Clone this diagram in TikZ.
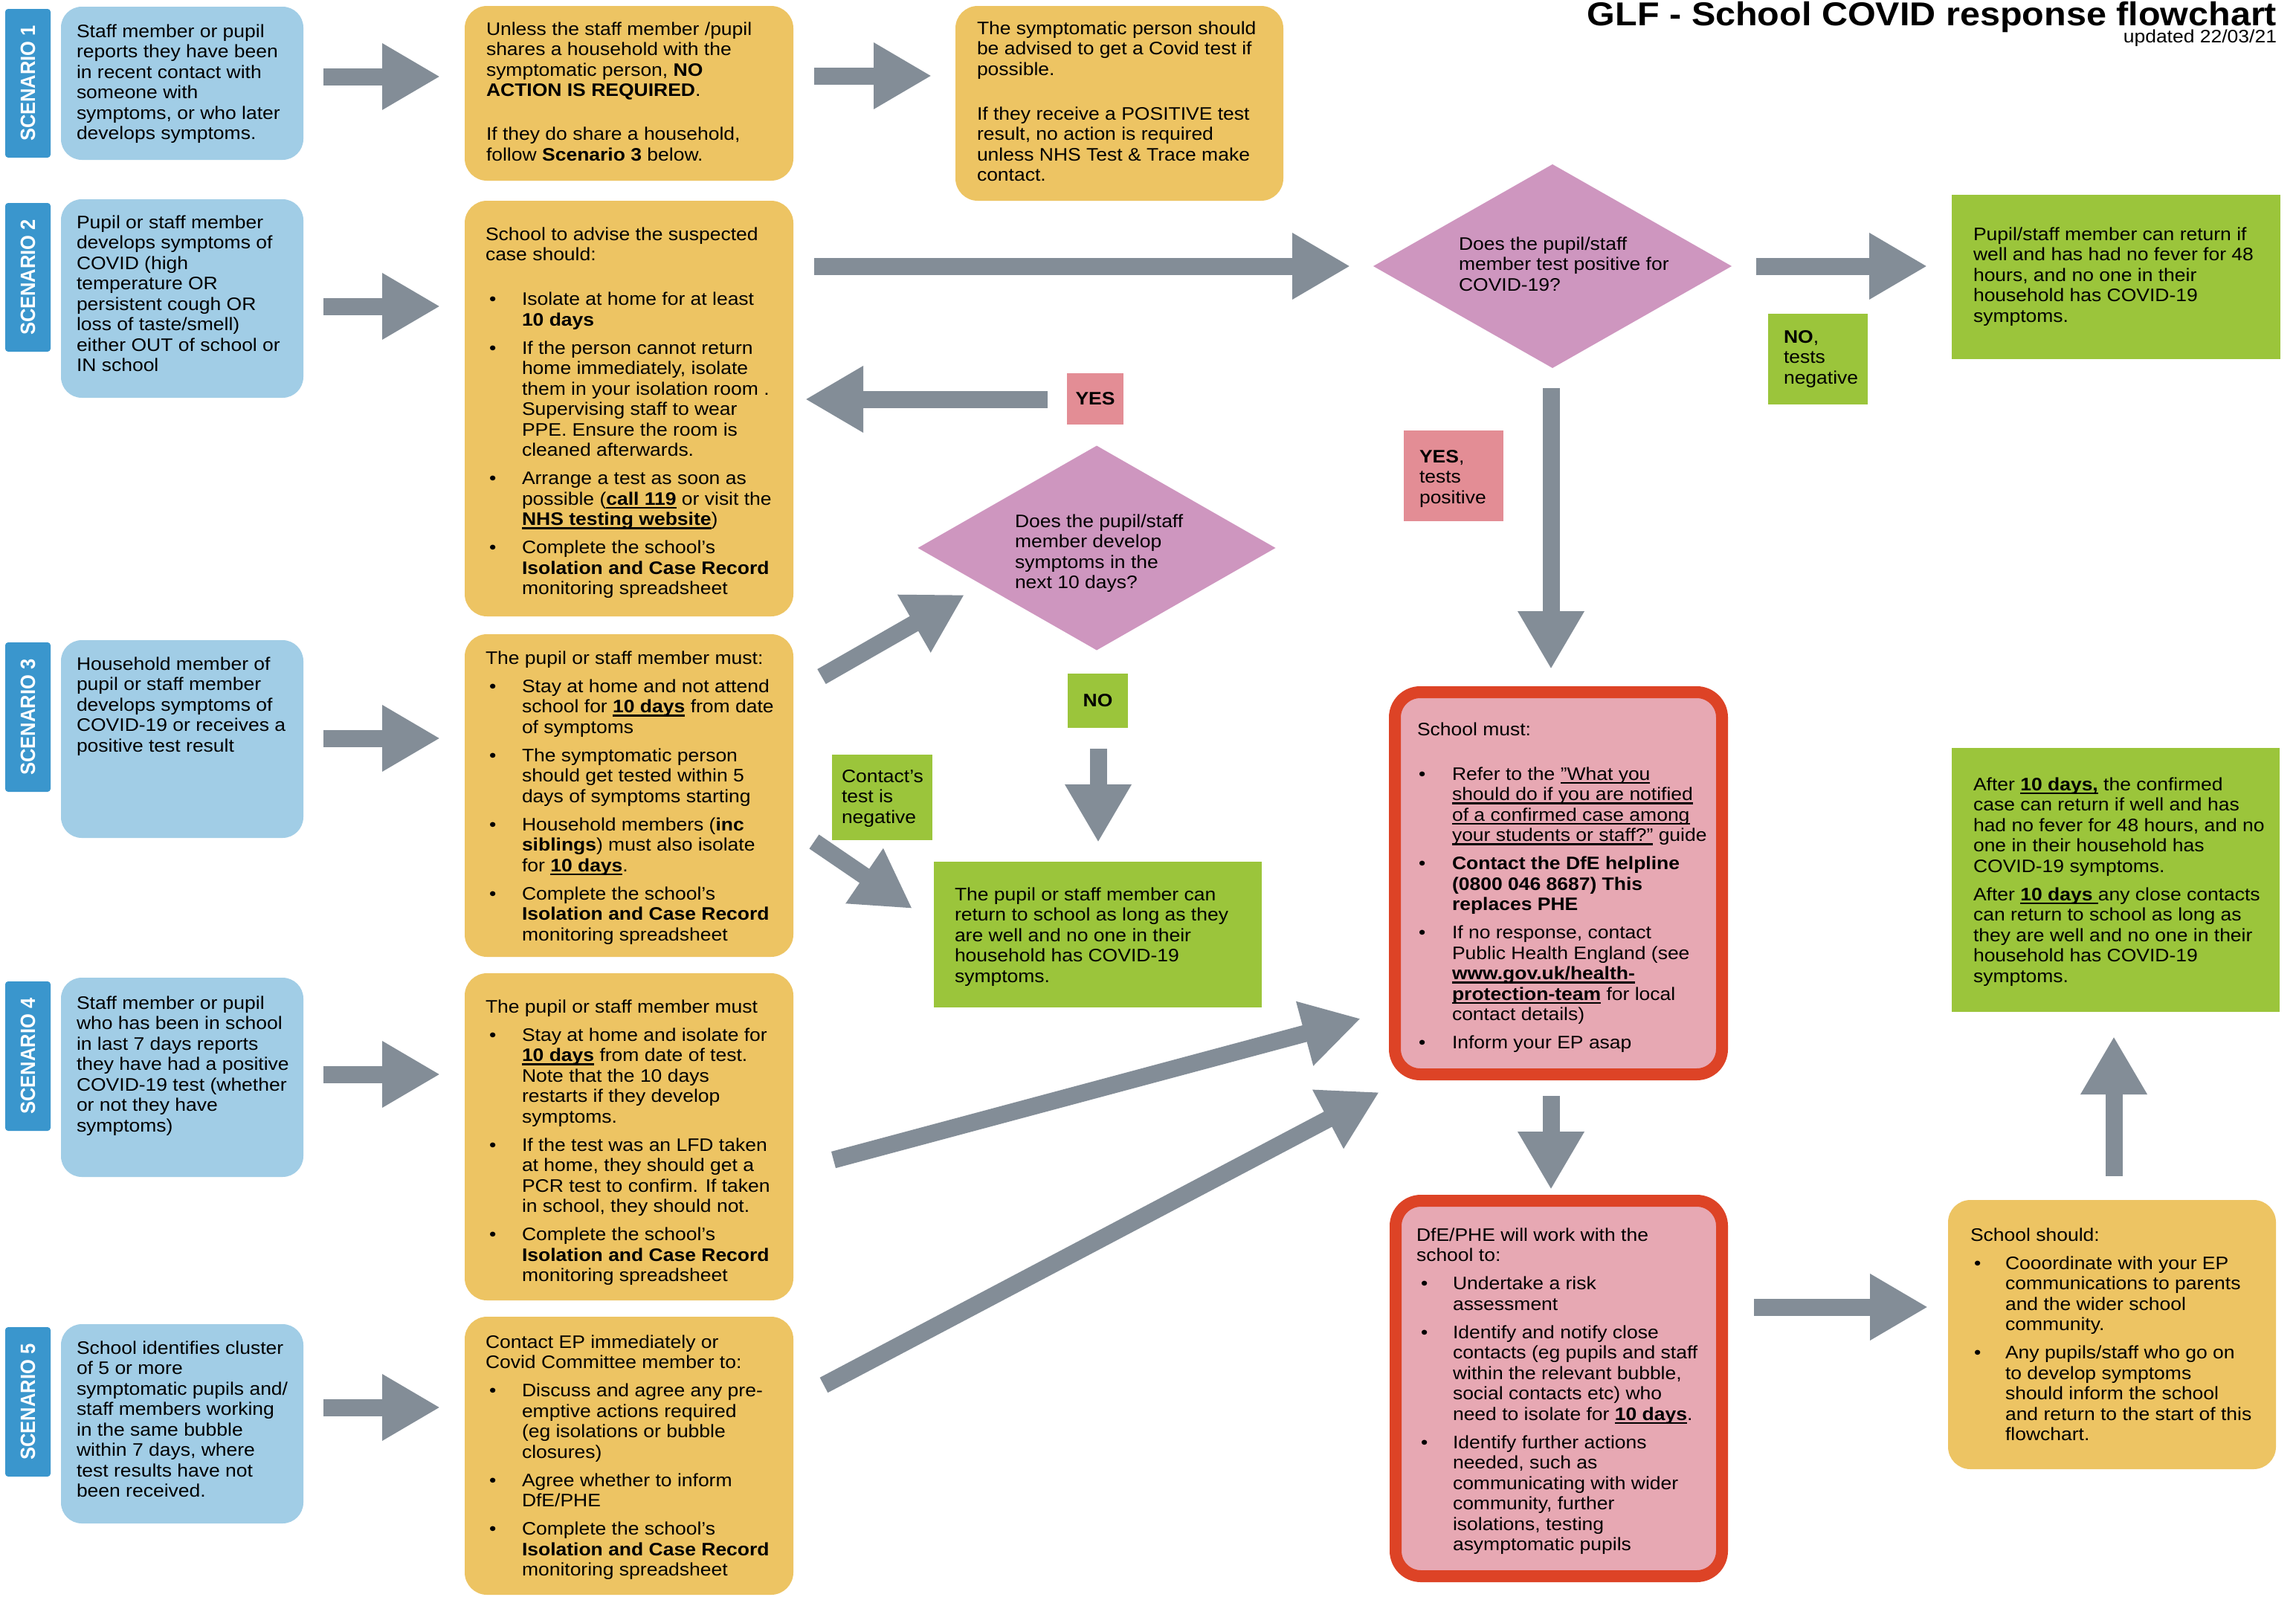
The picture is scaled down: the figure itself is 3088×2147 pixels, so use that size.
\documentclass[tikz,border=0pt]{standalone}
\usepackage{fontspec}
\setmainfont[FakeStretch=1.09]{Liberation Sans}
\newfontfamily\tabfont{Liberation Sans}
\usetikzlibrary{shapes.geometric,arrows.meta}

\definecolor{tabblue}{RGB}{58,150,205}
\definecolor{lblue}{RGB}{161,205,230}
\definecolor{yel}{RGB}{237,196,99}
\definecolor{grn}{RGB}{155,197,59}
\definecolor{dpink}{RGB}{206,150,191}
\definecolor{lpink}{RGB}{227,141,149}
\definecolor{rfill}{RGB}{231,168,179}
\definecolor{rline}{RGB}{221,67,38}
\definecolor{agray}{RGB}{131,141,151}

\newlength\bind \newlength\boff
\newcommand\ul[1]{\setbox0\hbox{#1}\rlap{\rule[-5pt]{\wd0}{2.4pt}}\box0\relax}
\newcommand\bu[1]{\par\hangindent=\bind\hangafter=1\noindent\makebox[\bind][l]{\hspace*{\boff}\textbullet}#1}
\newcommand\tb[3]{\begin{minipage}[t]{700pt}\fontsize{24.3}{27.5}\selectfont\setlength\parindent{0pt}\setlength\parskip{10.5pt}\setlength\bind{#1}\setlength\boff{#2}#3\end{minipage}}

\begin{document}
\begin{tikzpicture}[x=1pt,y=-1pt,
  every node/.style={inner sep=0pt, outer sep=0pt, font=\fontsize{24.3}{27.5}\selectfont},
  box/.style={anchor=north west, draw=none},
  lbox/.style={box, fill=lblue, rounded corners=28pt},
  ybox/.style={box, fill=yel, rounded corners=30pt},
  gbox/.style={box, fill=grn},
  plab/.style={box, fill=lpink},
  rbox/.style={box, fill=rfill, draw=rline, line width=16pt, rounded corners=34pt},
  tab/.style={fill=tabblue, rounded corners=4pt, text=white, rotate=90, minimum height=61pt, font=\tabfont\fontsize{25.5}{28}\selectfont\bfseries},
  dia/.style={diamond, fill=dpink},
  tx/.style={anchor=base west},
  bold/.style={font=\fontsize{24.3}{27.5}\selectfont\bfseries},
  bigarrow/.style={draw=agray, line width=23pt, -{Triangle[width=84pt,length=78pt]}},
]
\useasboundingbox (0,0) rectangle (3088,2147);
\fill[white] (0,0) rectangle (3088,2147);
\clip (0,0) rectangle (3088,2147);

% ---------- scenario tabs ----------
\node[tab, minimum width=200pt] (s1) at (37.5,112) {\scalebox{1}[1.09]{SCENARIO 1}};
\node[tab, minimum width=200pt] (s2) at (37.5,373) {\scalebox{1}[1.09]{SCENARIO 2}};
\node[tab, minimum width=201pt] (s3) at (37.5,964.5) {\scalebox{1}[1.09]{SCENARIO 3}};
\node[tab, minimum width=201pt] (s4) at (37.5,1420.5) {\scalebox{1}[1.09]{SCENARIO 4}};
\node[tab, minimum width=201pt] (s5) at (37.5,1885.5) {\scalebox{1}[1.09]{SCENARIO 5}};

% ---------- boxes ----------
\node[lbox, minimum width=326pt, minimum height=206pt] (b1) at (82,9) {};
\node[lbox, minimum width=326pt, minimum height=267pt] (b2) at (82,268) {};
\node[lbox, minimum width=326pt, minimum height=266pt] (b3) at (82,861) {};
\node[lbox, minimum width=326pt, minimum height=268pt] (b4) at (82,1315) {};
\node[lbox, minimum width=326pt, minimum height=268pt] (b5) at (82,1781) {};

\node[ybox, minimum width=442pt, minimum height=235pt] (y1) at (625,8) {};
\node[ybox, minimum width=442pt, minimum height=559pt] (y2) at (625,270) {};
\node[ybox, minimum width=442pt, minimum height=434pt] (y3) at (625,853) {};
\node[ybox, minimum width=442pt, minimum height=440pt] (y4) at (625,1309) {};
\node[ybox, minimum width=442pt, minimum height=374pt] (y5) at (625,1771) {};
\node[ybox, minimum width=441pt, minimum height=262pt] (y1b) at (1285,8) {};
\node[ybox, minimum width=441pt, minimum height=362pt] (ss) at (2620,1614) {};

\node[gbox, minimum width=442pt, minimum height=221pt] (g1) at (2625,262) {};
\node[gbox, minimum width=441pt, minimum height=196pt] (g2) at (1256,1159) {};
\node[gbox, minimum width=441pt, minimum height=355pt] (g3) at (2625,1006) {};

\node[rbox, minimum width=440pt, minimum height=514pt] (sm) at (1876,931) {};
\node[rbox, minimum width=439pt, minimum height=505pt] (dfe) at (1877,1615) {};

\node[dia, minimum width=482pt, minimum height=274pt] (d1) at (2088,358) {};
\node[dia, minimum width=481pt, minimum height=275pt] (d2) at (1475,737) {};

% ---------- labels ----------
\node[plab, bold, minimum width=76pt, minimum height=69pt] (yes1) at (1435,502) {YES};
\node[gbox, bold, minimum width=81pt, minimum height=73pt] (no1) at (1436,906) {NO};
\node[gbox, minimum width=134pt, minimum height=122pt] (noneg) at (2378,422) {};
\node[plab, minimum width=134pt, minimum height=122pt] (yespos) at (1888,579) {};
\node[gbox, minimum width=135pt, minimum height=115pt] (cneg) at (1119,1015) {};

\node[tx] (nonegt) at (2399,461) {\tb{0pt}{0pt}{\textbf{NO},\\tests\\negative}};
\node[tx] (yespost) at (1909,622) {\tb{0pt}{0pt}{\textbf{YES},\\tests\\positive}};
\node[tx] (cnegt) at (1132,1052) {\tb{0pt}{0pt}{Contact's\\test is\\negative}};

% ---------- arrows ----------
\coordinate (a1s) at (435,103);   \coordinate (a1e) at (592,103);
\coordinate (a2s) at (435,412);   \coordinate (a2e) at (592,412);
\coordinate (a3s) at (435,993);   \coordinate (a3e) at (592,993);
\coordinate (a4s) at (435,1445);  \coordinate (a4e) at (592,1445);
\coordinate (a5s) at (435,1893);  \coordinate (a5e) at (592,1893);
\coordinate (a6s) at (1095,102);  \coordinate (a6e) at (1253,102);
\coordinate (a7s) at (1095,358);  \coordinate (a7e) at (1816,358);
\coordinate (a8s) at (2362,358);  \coordinate (a8e) at (2592,358);
\coordinate (a9s) at (1409,537);  \coordinate (a9e) at (1083,537);
\coordinate (a10s) at (1105,910); \coordinate (a10e) at (1297,800);
\coordinate (a11s) at (1095,1132); \coordinate (a11e) at (1227,1222);
\coordinate (a12s) at (1477,1007); \coordinate (a12e) at (1477,1133);
\coordinate (a13s) at (2086,522);  \coordinate (a13e) at (2086,900);
\coordinate (a14s) at (1121,1560); \coordinate (a14e) at (1830,1370);
\coordinate (a15s) at (1108,1863); \coordinate (a15e) at (1855,1469);
\coordinate (a16s) at (2086,1474); \coordinate (a16e) at (2086,1600);
\coordinate (a17s) at (2359,1758); \coordinate (a17e) at (2593,1758);
\coordinate (a18s) at (2843,1582); \coordinate (a18e) at (2843,1394);
\foreach \i in {1,...,18} {\draw[bigarrow] (a\i s) -- (a\i e);}

% ---------- texts ----------
\node[tx] (b1t) at (103,50) {\tb{0pt}{0pt}{Staff member or pupil\\reports they have been\\in recent contact with\\someone with\\symptoms, or who later\\develops symptoms.}};
\node[tx] (b2t) at (103,307) {\tb{0pt}{0pt}{Pupil or staff member\\develops symptoms of\\COVID (high\\temperature OR\\persistent cough OR\\loss of taste/smell)\\either OUT of school or\\IN school}};
\node[tx] (b3t) at (103,901) {\tb{0pt}{0pt}{Household member of\\pupil or staff member\\develops symptoms of\\COVID-19 or receives a\\positive test result}};
\node[tx] (b4t) at (103,1357) {\tb{0pt}{0pt}{Staff member or pupil\\who has been in school\\in last 7 days reports\\they have had a positive\\COVID-19 test (whether\\or not they have\\symptoms)}};
\node[tx] (b5t) at (103,1821) {\tb{0pt}{0pt}{School identifies cluster\\of 5 or more\\symptomatic pupils and/\\staff members working\\in the same bubble\\within 7 days, where\\test results have not\\been received.}};

\node[tx] (y1t) at (654,47) {\tb{0pt}{0pt}{Unless the staff member /pupil\\shares a household with the\\symptomatic person, \textbf{NO}\\\textbf{ACTION IS REQUIRED}.\par\vspace{21pt}If they do share a household,\\follow \textbf{Scenario 3} below.}};
\node[tx] (y1bt) at (1314,46) {\tb{0pt}{0pt}{The symptomatic person should\\be advised to get a Covid test if\\possible.\par\vspace{22pt}If they receive a POSITIVE test\\result, no action is required\\unless NHS Test \& Trace make\\contact.}};

\node[tx] (y2t) at (653,323) {\tb{49pt}{5pt}{School to advise the suspected\\case should:\par\vspace{22pt}
\bu{Isolate at home for at least\\\textbf{10 days}}
\bu{If the person cannot return\\home immediately, isolate\\them in your isolation room .\\Supervising staff to wear\\PPE. Ensure the room is\\cleaned afterwards.}
\bu{Arrange a test as soon as\\possible (\ul{\textbf{call 119}} or visit the\\\ul{\textbf{NHS testing website}})}
\bu{Complete the school's\\\textbf{Isolation and Case Record}\\monitoring spreadsheet}}};

\node[tx] (y3t) at (653,893) {\tb{49pt}{5pt}{The pupil or staff member must:
\bu{Stay at home and not attend\\school for \ul{\textbf{10 days}} from date\\of symptoms}
\bu{The symptomatic person\\should get tested within 5\\days of symptoms starting}
\bu{Household members (\textbf{inc}\\\textbf{siblings}) must also isolate\\for \ul{\textbf{10 days}}.}
\bu{Complete the school's\\\textbf{Isolation and Case Record}\\monitoring spreadsheet}}};

\node[tx] (y4t) at (653,1362) {\tb{49pt}{5pt}{The pupil or staff member must
\bu{Stay at home and isolate for\\\ul{\textbf{10 days}} from date of test.\\Note that the 10 days\\restarts if they develop\\symptoms.}
\bu{If the test was an LFD taken\\at home, they should get a\\PCR test to confirm. If taken\\in school, they should not.}
\bu{Complete the school's\\\textbf{Isolation and Case Record}\\monitoring spreadsheet}}};

\node[tx] (y5t) at (653,1813) {\tb{49pt}{5pt}{Contact EP immediately or\\Covid Committee member to:
\bu{Discuss and agree any pre-\\emptive actions required\\(eg isolations or bubble\\closures)}
\bu{Agree whether to inform\\DfE/PHE}
\bu{Complete the school's\\\textbf{Isolation and Case Record}\\monitoring spreadsheet}}};

\node[tx] (d1t) at (1962,336) {\tb{0pt}{0pt}{Does the pupil/staff\\member test positive for\\COVID-19?}};
\node[tx] (d2t) at (1365,709) {\tb{0pt}{0pt}{Does the pupil/staff\\member develop\\symptoms in the\\next 10 days?}};

\node[tx] (g1t) at (2654,323) {\tb{0pt}{0pt}{Pupil/staff member can return if\\well and has had no fever for 48\\hours, and no one in their\\household has COVID-19\\symptoms.}};
\node[tx] (g2t) at (1284,1211) {\tb{0pt}{0pt}{The pupil or staff member can\\return to school as long as they\\are well and no one in their\\household has COVID-19\\symptoms.}};
\node[tx] (g3t) at (2654,1063) {\tb{0pt}{0pt}{After \ul{\textbf{10 days,}} the confirmed\\case can return if well and has\\had no fever for 48 hours, and no\\one in their household has\\COVID-19 symptoms.\par After \ul{\textbf{10 days }}any close contacts\\can return to school as long as\\they are well and no one in their\\household has COVID-19\\symptoms.}};

\node[tx] (smt) at (1906,989) {\tb{47pt}{2pt}{School must:\par\vspace{22pt}
\bu{Refer to the \ul{"What you}\\\ul{should do if you are notified}\\\ul{of a confirmed case among}\\\ul{your students or staff?"} guide}
\bu{\textbf{Contact the DfE helpline\\(0800 046 8687) This\\replaces PHE}}
\bu{If no response, contact\\Public Health England (see\\\ul{\textbf{www.gov.uk/health-}}\\\ul{\textbf{protection-team}} for local\\contact details)}
\bu{Inform your EP asap}}};

\node[tx] (dfet) at (1905,1669) {\tb{49pt}{6pt}{DfE/PHE will work with the\\school to:
\bu{Undertake a risk\\assessment}
\bu{Identify and notify close\\contacts (eg pupils and staff\\within the relevant bubble,\\social contacts etc) who\\need to isolate for \ul{\textbf{10 days}}.}
\bu{Identify further actions\\needed, such as\\communicating with wider\\community, further\\isolations, testing\\asymptomatic pupils}}};

\node[tx] (sst) at (2650,1669) {\tb{47pt}{5pt}{School should:
\bu{Cooordinate with your EP\\communications to parents\\and the wider school\\community.}
\bu{Any pupils/staff who go on\\to develop symptoms\\should inform the school\\and return to the start of this\\flowchart.}}};

% ---------- title ----------
\node[anchor=base east, font=\fontsize{44.5}{50}\selectfont\bfseries] (title) at (3062,34) {GLF - School COVID response flowchart};
\node[anchor=base east] (upd) at (3062,57) {updated 22/03/21};
\end{tikzpicture}
\end{document}
